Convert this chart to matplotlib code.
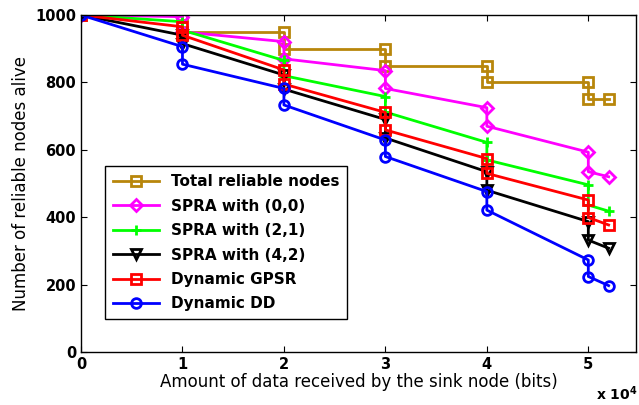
import numpy as np
import matplotlib
matplotlib.use("Agg")
import matplotlib.pyplot as plt

# --------------------------------------------------
# Data (x in units of 1e4 bits)
# --------------------------------------------------

x = [0, 1, 1, 2, 2, 3, 3, 4, 4, 5, 5, 5.2]

total_reliable = [1000, 1000, 950, 950, 900, 900, 850, 850, 800, 800, 750, 750]
spra_00 = [1000, 995, 950, 921, 870, 835, 782, 725, 670, 593, 535, 520]
spra_21 = [1000, 980, 955, 865, 820, 758, 712, 622, 570, 496, 436, 418]
spra_42 = [1000, 940, 915, 822, 780, 690, 635, 535, 480, 387, 332, 308]
dyn_gpsr = [1000, 965, 940, 837, 795, 711, 659, 574, 530, 451, 399, 377]
dyn_dd = [1000, 906, 854, 782, 733, 629, 580, 476, 421, 273, 224, 197]

series = [
    ("Total reliable nodes", total_reliable, "#B8860B", "s"),
    ("SPRA with (0,0)", spra_00, "#FF00FF", "D"),
    ("SPRA with (2,1)", spra_21, "#00FF00", "+"),
    ("SPRA with (4,2)", spra_42, "black", "v"),
    ("Dynamic GPSR", dyn_gpsr, "red", "s"),
    ("Dynamic DD", dyn_dd, "blue", "o"),
]

# --------------------------------------------------
# Plot
# --------------------------------------------------

fig = plt.figure(figsize=(6.39, 4.05), dpi=100)
ax = fig.add_axes([81 / 639, 53 / 405, 555 / 639, 337 / 405])

for label, vals, color, marker in series:
    ms = 7 if marker != "D" else 6
    ax.plot(
        x,
        vals,
        color=color,
        linewidth=2,
        marker=marker,
        markersize=ms,
        markerfacecolor="none",
        markeredgewidth=2,
        label=label,
    )

ax.set_xlim(0, 5.47)
ax.set_ylim(0, 1000)
ax.set_xticks([0, 1, 2, 3, 4, 5])
ax.set_yticks([0, 200, 400, 600, 800, 1000])
ax.tick_params(direction="in", top=True, right=True, length=4, width=0.8)

for lbl in ax.get_xticklabels() + ax.get_yticklabels():
    lbl.set_fontweight("bold")
    lbl.set_fontsize(10.5)

for spine in ax.spines.values():
    spine.set_linewidth(1.0)

ax.set_xlabel("Amount of data received by the sink node (bits)", fontsize=12, labelpad=1)
ax.set_ylabel("Number of reliable nodes alive", fontsize=12, labelpad=4)

fig.text(0.933, 0.028, r"x 10$^{\mathbf{4}}$", fontsize=10, fontweight="bold",
         va="center")

leg = ax.legend(
    loc="lower left",
    bbox_to_anchor=(0.03, 0.075),
    prop={"weight": "bold", "size": 11},
    fancybox=False,
    framealpha=1,
    edgecolor="black",
    handlelength=3,
    borderpad=0.5,
    labelspacing=0.62,
)
leg.get_frame().set_linewidth(1.0)

fig.savefig("out.png", dpi=100)
